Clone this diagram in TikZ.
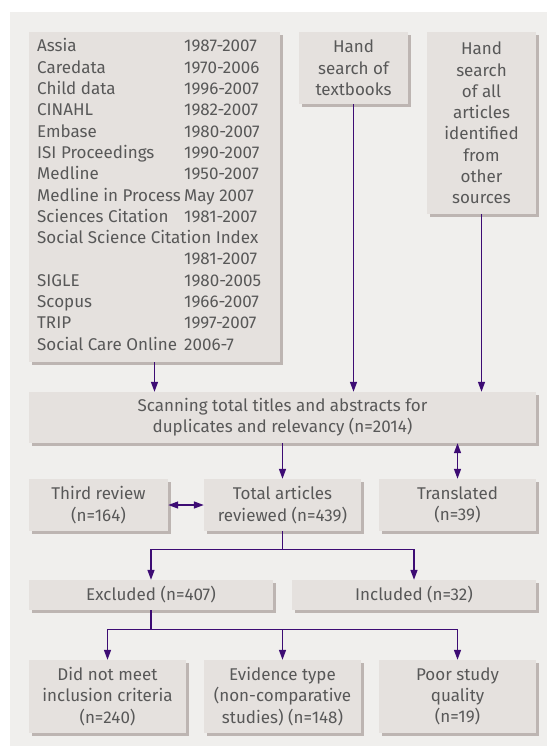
\documentclass[tikz,border=0pt]{standalone}
\usepackage{fontspec}
\setmainfont{Fira Sans}
\usetikzlibrary{arrows.meta,calc}
\definecolor{panelc}{HTML}{F0EFED}
\definecolor{boxc}{HTML}{E5E1DE}
\definecolor{shadc}{HTML}{BDB5B2}
\definecolor{txtc}{HTML}{585858}
\definecolor{arrc}{HTML}{3D0C74}
\newcommand\flowbox[6]{%
  \fill[shadc] (#2+3,#3+3) rectangle (#4+3,#5+3);
  \node[boxst, minimum width={(#4-#2)*1pt}, minimum height={(#5-#3)*1pt}] (#1) at ({(#2+#4)/2},{(#3+#5)/2}) {#6};
}
\begin{document}
\begin{tikzpicture}[x=1pt,y=-1pt,
  boxst/.style={fill=boxc, inner sep=0pt, align=center, text=txtc,
    font=\fontsize{17}{21.3}\selectfont},
  arr/.style={draw=arrc, line width=1.4pt, -{Triangle[length=10pt,width=7pt]}},
  darr/.style={draw=arrc, line width=1.4pt, {Triangle[length=10pt,width=7pt]}-{Triangle[length=10pt,width=7pt]}},
  ln/.style={draw=arrc, line width=1.4pt}]
\useasboundingbox (0,0) rectangle (547,746);
\fill[panelc] (10,12) rectangle (547,746);
% boxes
\flowbox{db}{29}{32}{280}{362}{}
\node[anchor=base west, inner sep=0pt, text=txtc, font=\fontsize{17}{21.3}\selectfont] (dbtext) at (37,52) {%
\begin{tabular}[t]{@{}p{147pt}@{}l@{}}
Assia & 1987-2007\\
Caredata & 1970-2006\\
Child data & 1996-2007\\
CINAHL & 1982-2007\\
Embase & 1980-2007\\
ISI Proceedings & 1990-2007\\
Medline & 1950-2007\\
Medline in Process & May 2007\\
Sciences Citation & 1981-2007\\
\multicolumn{2}{@{}l@{}}{Social Science Citation Index}\\
 & 1981-2007\\
SIGLE & 1980-2005\\
Scopus & 1966-2007\\
TRIP & 1997-2007\\
Social Care Online & 2006-7
\end{tabular}};
\flowbox{hs1}{299}{32}{408}{104}{Hand\\search of\\textbooks}
\flowbox{hs2}{427}{32}{536}{214}{Hand\\search\\of all\\articles\\identified\\from\\other\\sources}
\flowbox{scan}{29}{392}{536}{443}{Scanning total titles and abstracts for\\duplicates and relevancy (n=2014)}
\flowbox{third}{29}{479}{168}{531}{Third review\\(n=164)}
\flowbox{total}{204}{479}{361}{531}{Total articles\\reviewed (n=439)}
\flowbox{trans}{379}{479}{536}{531}{Translated\\(n=39)}
\flowbox{excl}{29}{580}{273}{610}{Excluded (n=407)}
\flowbox{incl}{292}{580}{536}{610}{Included (n=32)}
\flowbox{did}{29}{660}{186}{733}{Did not meet\\inclusion criteria\\(n=240)}
\flowbox{evid}{204}{660}{361}{733}{Evidence type\\(non-comparative\\studies) (n=148)}
\flowbox{poor}{379}{660}{536}{733}{Poor study\\quality\\(n=19)}
% connectors
\draw[arr] (db.south) -- (db.south |- scan.north);
\draw[arr] (hs1.south) -- (hs1.south |- scan.north);
\draw[arr] (hs2.south) -- (hs2.south |- scan.north);
\draw[arr] (total.north |- scan.south) -- (total.north);
\draw[darr] (trans.north |- scan.south) -- (trans.north);
\draw[darr] (third.east) -- (total.west);
\coordinate (j1) at ($(total.south)+(0,18)$);
\draw[ln] (total.south) -- (j1);
\draw[arr] (j1) -| (excl.north);
\draw[arr] (j1) -| (incl.north);
\coordinate (j2) at ($(excl.south)+(0,19)$);
\draw[ln] (excl.south) -- (j2);
\draw[arr] (j2) -| (did.north);
\draw[arr] (j2 -| evid.north) -- (evid.north);
\draw[arr] (j2) -| (poor.north);
\end{tikzpicture}
\end{document}
